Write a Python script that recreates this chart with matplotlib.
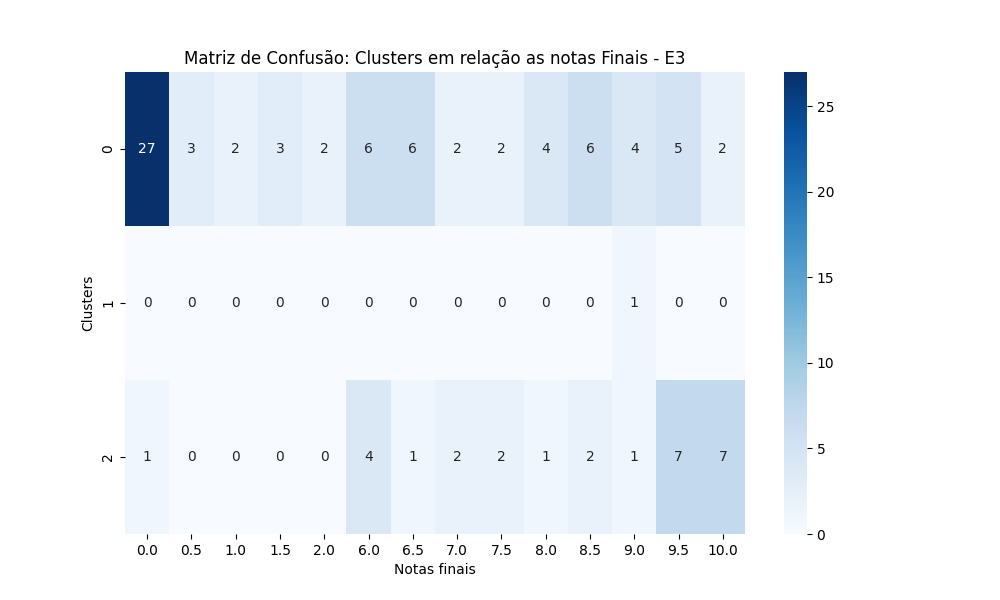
import matplotlib
matplotlib.use("Agg")
import matplotlib.pyplot as plt
import seaborn as sns
import pandas as pd

notas = ["0.0", "0.5", "1.0", "1.5", "2.0", "6.0", "6.5", "7.0", "7.5", "8.0", "8.5", "9.0", "9.5", "10.0"]
clusters = [0, 1, 2]
cluster_0 = [27, 3, 2, 3, 2, 6, 6, 2, 2, 4, 6, 4, 5, 2]
cluster_1 = [0, 0, 0, 0, 0, 0, 0, 0, 0, 0, 0, 1, 0, 0]
cluster_2 = [1, 0, 0, 0, 0, 4, 1, 2, 2, 1, 2, 1, 7, 7]

matriz = pd.DataFrame([cluster_0, cluster_1, cluster_2], index=clusters, columns=notas)

plt.figure(figsize=(10, 6))
sns.heatmap(matriz, annot=True, fmt="d", cmap="Blues")
plt.title("Matriz de Confusão: Clusters em relação as notas Finais - E3")
plt.xlabel("Notas finais")
plt.ylabel("Clusters")
plt.savefig("out.png", dpi=100)
